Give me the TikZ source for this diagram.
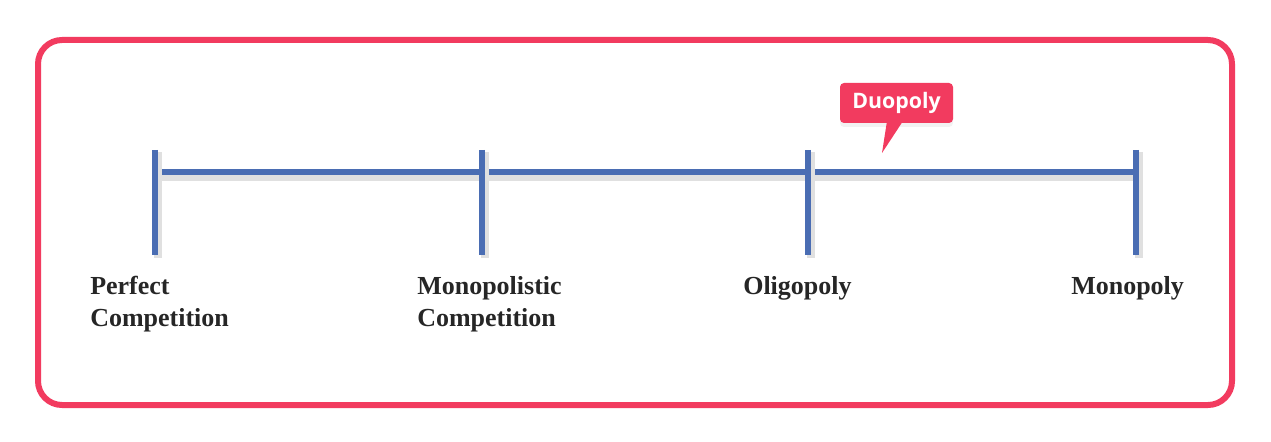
\documentclass[tikz,border=0pt]{standalone}
\usepackage{fontspec}
\setmainfont{Liberation Serif}
\newfontfamily\calloutfont{Open Sans}
\usetikzlibrary{shadows}
\definecolor{frame}{HTML}{F23B5F}
\definecolor{axis}{HTML}{4A6DB3}
\begin{document}
\begin{tikzpicture}[x=0.75pt,y=-0.75pt,
  bar/.style={line width=4.5pt,draw=axis},
  lbl/.style={anchor=north west,align=left,font=\fontsize{19.5}{24}\selectfont\bfseries,inner sep=0pt,text=black!85}]
\useasboundingbox (0,0) rectangle (1271,442);
\draw[frame,line width=4.5pt,rounded corners=18pt] (38,40) rectangle (1232,405);
\coordinate (a1) at (155,172); \coordinate (a2) at (1136,172);
\draw[black!12,line width=6pt] (155,177) -- (1136,177);
\draw[bar] (a1) -- (a2);
\foreach \x/\n in {155/t1,482/t2,808/t3,1136/t4}{
  \coordinate (\n a) at (\x,150); \coordinate (\n b) at (\x,255);
  \draw[black!12,line width=6pt] (\x+3,152) -- (\x+3,258);
  \draw[bar] (\n a) -- (\n b);
}
\node[lbl] (p) at (90,276) {Perfect\\Competition};
\node[lbl] (m) at (417,276) {Monopolistic\\Competition};
\node[lbl] (o) at (743,276) {Oligopoly};
\node[lbl] (mo) at (1071,276) {Monopoly};
\fill[frame,rounded corners=3pt,drop shadow={opacity=0.1,shadow xshift=0pt,shadow yshift=-3pt}] (840,83) rectangle (953,123);
\fill[frame] (887,121) -- (903,121) -- (882,153) -- cycle;
\node[text=white,font=\calloutfont\bfseries\fontsize{16}{18}\selectfont] (d) at (896.5,103) {Duopoly};
\end{tikzpicture}
\end{document}
